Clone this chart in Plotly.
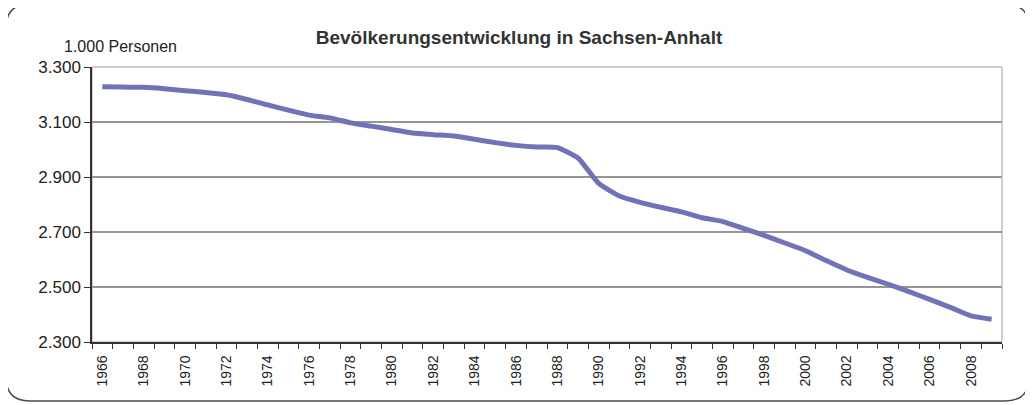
import plotly.graph_objects as go

years = list(range(1966, 2010))
population = [3228, 3227, 3226, 3221, 3214, 3207, 3199, 3182, 3162, 3143, 3125, 3115,
              3097, 3085, 3073, 3060, 3054, 3049, 3037, 3025, 3015, 3009, 3007, 2969,
              2877, 2831, 2808, 2790, 2773, 2752, 2738, 2713, 2688, 2660, 2632, 2596,
              2562, 2535, 2510, 2483, 2455, 2426, 2395, 2383]
tick_years = list(range(1966, 2010, 2))
y_ticks = [2300, 2500, 2700, 2900, 3100, 3300]

title_text = "Bevölkerungsentwicklung in Sachsen-Anhalt"
unit_text = "1.000 Personen"

# page body has an 8px margin; work in screen coords and shift
OFF = 8
W, H = 1033 - OFF, 405 - OFF
L, R, T, B = 92 - OFF, 1033 - 1002, 67 - OFF, 405 - 342
pw, ph = W - L - R, H - T - B

def px(x):
    return (x - OFF - L) / pw

def py(y):
    return (H - B - (y - OFF)) / ph

fig = go.Figure()

# gridlines (inner ticks only; top edge is the light plot frame)
for v in y_ticks[1:-1]:
    fig.add_hline(y=v, line=dict(color="#2e2e2e", width=1.2), layer="below")

fig.add_trace(go.Scatter(
    x=years, y=population, mode="lines",
    line=dict(color="#7272b6", width=5, shape="spline", smoothing=0.5),
    hoverinfo="x+y", showlegend=False,
))

# rounded outer border
x0, x1 = px(6), px(1029)
y0, y1 = py(401), py(4)
rx, ry = 24 / pw, 24 / ph
path = (f"M {x0+rx},{y1} L {x1-rx},{y1} Q {x1},{y1} {x1},{y1-ry} "
        f"L {x1},{y0+ry} Q {x1},{y0} {x1-rx},{y0} L {x0+rx},{y0} "
        f"Q {x0},{y0} {x0},{y0+ry} L {x0},{y1-ry} Q {x0},{y1} {x0+rx},{y1} Z")
fig.add_shape(type="path", path=path, xref="paper", yref="paper",
              line=dict(color="#4a4a4a", width=1.5), layer="below")
# plot frame (light top/right)
fig.add_shape(type="rect", x0=0, x1=1, y0=0, y1=1, xref="paper", yref="paper",
              line=dict(color="#a0a0a0", width=1), layer="below")

fig.add_annotation(text=unit_text, x=px(120), y=py(47), xref="paper", yref="paper",
                   showarrow=False, font=dict(family="Liberation Sans, Arial", size=16, color="#222"),
                   xanchor="center", yanchor="middle")

fig.update_layout(
    width=W, height=H,
    margin=dict(l=L, r=R, t=T, b=B),
    paper_bgcolor="white", plot_bgcolor="white",
    separators=",.",
    font=dict(family="Liberation Sans, Arial", color="#222"),
    title=dict(text=f"<b>{title_text}</b>", x=(519 - OFF) / W, xanchor="center",
               y=1 - (37 - OFF) / H, yanchor="middle", yref="container",
               font=dict(size=19, color="#333")),
    xaxis=dict(
        range=[1965.5, 2009.5], tickmode="array", tickvals=tick_years,
        ticktext=[str(y) for y in tick_years], tickangle=-90,
        ticks="", showgrid=False, zeroline=False,
        showline=True, linecolor="#333", linewidth=1.5,
        tickfont=dict(size=14, color="#222"),
        minor=dict(ticks="outside", tick0=1965.5, dtick=1, ticklen=5,
                   tickcolor="#333", showgrid=False),
        ticklabelstandoff=6,
        fixedrange=True,
    ),
    yaxis=dict(
        range=[2300, 3300], tickmode="array", tickvals=y_ticks, tickformat=",d",
        ticks="outside", ticklen=6, tickcolor="#333",
        showgrid=False, zeroline=False,
        showline=True, linecolor="#333", linewidth=1.5,
        tickfont=dict(size=17, color="#222"),
        fixedrange=True,
    ),
)

fig.write_html("out.html")
